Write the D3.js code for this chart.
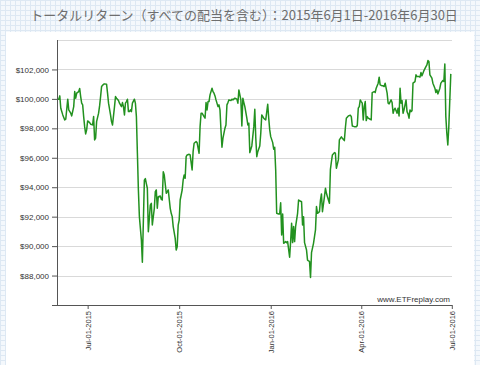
<!DOCTYPE html>
<html><head><meta charset="utf-8">
<script src="https://cdn.jsdelivr.net/npm/d3@7"></script>
<style>
html,body{margin:0;padding:0;background:#fff;}
svg{display:block;}
</style></head>
<body>
<svg id="chart" width="480" height="365"></svg>
<script>
const title = "トータルリターン（すべての配当を含む）：2015年6月1日-2016年6月30日";
const watermark = "www.ETFreplay.com";
const xTickDates = ["2015-07-01","2015-10-01","2016-01-01","2016-04-01","2016-07-01"];
const xTickLabels = ["Jul-01-2015","Oct-01-2015","Jan-01-2016","Apr-01-2016","Jul-01-2016"];
const yTicks = [88000,90000,92000,94000,96000,98000,100000,102000];
const yGrid = [88000,90000,92000,94000,96000,98000,100000,102000,104000];
const dates = [
"2015-06-01","2015-06-02","2015-06-03","2015-06-04","2015-06-06","2015-06-08","2015-06-09","2015-06-11","2015-06-12","2015-06-14","2015-06-15","2015-06-17","2015-06-18","2015-06-19","2015-06-20","2015-06-22","2015-06-23","2015-06-24","2015-06-25","2015-06-26","2015-06-27","2015-06-28","2015-06-29","2015-06-30",
"2015-07-01","2015-07-03","2015-07-04","2015-07-06","2015-07-07","2015-07-08","2015-07-09","2015-07-10","2015-07-12","2015-07-13","2015-07-14","2015-07-15","2015-07-17","2015-07-18","2015-07-20","2015-07-21","2015-07-22","2015-07-24","2015-07-25","2015-07-26","2015-07-28","2015-07-29","2015-07-30",
"2015-08-01","2015-08-02","2015-08-04","2015-08-05","2015-08-06","2015-08-07","2015-08-08","2015-08-09","2015-08-10","2015-08-11","2015-08-12","2015-08-13","2015-08-14","2015-08-15","2015-08-17","2015-08-18","2015-08-19","2015-08-20","2015-08-21","2015-08-22","2015-08-24","2015-08-25","2015-08-27","2015-08-28","2015-08-29","2015-08-30","2015-08-31",
"2015-09-02","2015-09-03","2015-09-04","2015-09-06","2015-09-07","2015-09-08","2015-09-09","2015-09-10","2015-09-12","2015-09-13","2015-09-14","2015-09-15","2015-09-16","2015-09-18","2015-09-19","2015-09-20","2015-09-22","2015-09-23","2015-09-24","2015-09-25","2015-09-27","2015-09-28","2015-09-29","2015-09-30",
"2015-10-01","2015-10-02","2015-10-04","2015-10-05","2015-10-06","2015-10-07","2015-10-08","2015-10-09","2015-10-11","2015-10-12","2015-10-14","2015-10-15","2015-10-16","2015-10-18","2015-10-19","2015-10-21","2015-10-22","2015-10-23","2015-10-24","2015-10-26","2015-10-27","2015-10-28","2015-10-29","2015-10-30","2015-10-31",
"2015-11-01","2015-11-03","2015-11-04","2015-11-05","2015-11-06","2015-11-07","2015-11-09","2015-11-10","2015-11-11","2015-11-12","2015-11-13","2015-11-14","2015-11-16","2015-11-17","2015-11-18","2015-11-19","2015-11-20","2015-11-22","2015-11-23","2015-11-24","2015-11-26","2015-11-28","2015-11-29","2015-11-30",
"2015-12-02","2015-12-03","2015-12-04","2015-12-05","2015-12-06","2015-12-08","2015-12-09","2015-12-10","2015-12-11","2015-12-12","2015-12-13","2015-12-15","2015-12-16","2015-12-17","2015-12-18","2015-12-19","2015-12-21","2015-12-22","2015-12-23","2015-12-25","2015-12-26","2015-12-27","2015-12-29","2015-12-30","2015-12-31",
"2016-01-01","2016-01-03","2016-01-04","2016-01-05","2016-01-06","2016-01-07","2016-01-09","2016-01-10","2016-01-11","2016-01-12","2016-01-13","2016-01-14","2016-01-16","2016-01-17","2016-01-18","2016-01-20","2016-01-21","2016-01-22","2016-01-23","2016-01-24","2016-01-25","2016-01-26","2016-01-28","2016-01-29","2016-01-30",
"2016-02-01","2016-02-02","2016-02-03","2016-02-04","2016-02-06","2016-02-07","2016-02-08","2016-02-09","2016-02-10","2016-02-11","2016-02-13","2016-02-14","2016-02-15","2016-02-16","2016-02-17","2016-02-19","2016-02-20","2016-02-21","2016-02-22","2016-02-24","2016-02-25","2016-02-26","2016-02-27","2016-02-29",
"2016-03-01","2016-03-02","2016-03-03","2016-03-05","2016-03-06","2016-03-07","2016-03-09","2016-03-10","2016-03-12","2016-03-13","2016-03-15","2016-03-16","2016-03-17","2016-03-19","2016-03-21","2016-03-22","2016-03-23","2016-03-25","2016-03-27","2016-03-28","2016-03-29","2016-03-30","2016-03-31",
"2016-04-01","2016-04-02","2016-04-03","2016-04-04","2016-04-05","2016-04-06","2016-04-07","2016-04-08","2016-04-10","2016-04-11","2016-04-12","2016-04-14","2016-04-15","2016-04-16","2016-04-18","2016-04-19","2016-04-20","2016-04-22","2016-04-23","2016-04-24","2016-04-25","2016-04-27","2016-04-28","2016-04-29",
"2016-05-01","2016-05-02","2016-05-03","2016-05-04","2016-05-05","2016-05-07","2016-05-08","2016-05-09","2016-05-10","2016-05-11","2016-05-12","2016-05-13","2016-05-14","2016-05-16","2016-05-17","2016-05-18","2016-05-19","2016-05-20","2016-05-21","2016-05-22","2016-05-23","2016-05-25","2016-05-26","2016-05-27","2016-05-29","2016-05-30","2016-05-31",
"2016-06-01","2016-06-02","2016-06-03","2016-06-05","2016-06-06","2016-06-07","2016-06-08","2016-06-09","2016-06-11","2016-06-12","2016-06-14","2016-06-15","2016-06-16","2016-06-17","2016-06-19","2016-06-20","2016-06-22","2016-06-23","2016-06-24","2016-06-25","2016-06-26","2016-06-27","2016-06-28","2016-06-29","2016-06-30"
];
const values = [
99980,99980,100204,99368,98912,98572,98620,99980,99252,99028,98844,99476,100496,100048,100388,100496,100700,100156,99708,99592,98796,98116,97620,97892,
98504,98388,98280,98232,98796,97212,97328,98456,99028,99524,100156,100836,101000,101020,101000,100388,99708,98912,98456,98232,99476,100156,100048,
99884,99708,99476,99748,99476,98912,99708,99816,99980,99136,99136,99252,99136,99708,99980,99708,98796,96308,93816,92004,90420,88904,94476,94588,94248,93930,90980,
92792,92908,91432,92568,93700,93816,92568,93356,93404,93180,93132,95056,94832,93588,93700,93816,92568,92228,92004,91324,90528,89732,89960,91432,
91772,93132,93812,94492,94832,94606,96076,96192,96240,96192,95172,96416,96988,97096,97030,96308,98116,99028,99028,98796,98688,99748,99252,99816,99816,
100272,100728,100496,100388,100204,99932,99476,99592,99252,97892,96716,97328,98008,98232,99592,99748,99932,99884,99980,99932,100048,99980,99708,100612,
99932,98164,100048,99748,99476,98688,98232,98348,96350,96580,96804,98116,99300,97328,96076,96416,96804,97668,98912,98688,98620,98572,99640,98688,97892,
97436,97030,96580,96716,95172,92228,92180,92180,92948,90756,92180,90190,90306,90238,90306,89244,90306,91556,90238,91324,90306,91324,92228,93132,93084,
93016,91432,91996,90238,89732,89052,89004,88960,87870,89552,90190,90646,91100,92684,92228,92340,93132,93540,92340,93356,93930,93588,93356,92908,
95216,95732,96192,96350,96308,95290,95856,97216,97420,97328,97164,98008,98688,98844,98890,98796,98164,98116,98116,98184,99368,99476,99932,
99816,99708,98572,99476,99816,98524,98796,98688,98620,98572,100428,100496,100428,100728,101068,101476,100952,100884,100884,100836,101068,100388,99708,99660,
99932,99748,99028,99252,99368,99028,99368,98844,100728,99708,99884,99028,99252,99932,99136,98980,98688,99252,99136,99204,101068,101176,101632,101516,101516,101476,101788,
101564,101748,101924,102196,102312,102604,102536,101632,101408,101068,100728,100428,100612,100340,100728,101068,101244,101176,102376,98796,97668,96876,98116,99932,101700
];

const parse = d3.utcParse("%Y-%m-%d");
const data = dates.map((d,i)=>({date:parse(d), value:values[i]}));
const svg = d3.select("#chart");

// graph-paper background
const defs = svg.append("defs");
const pat = defs.append("pattern").attr("id","paper").attr("width",5).attr("height",5).attr("patternUnits","userSpaceOnUse");
pat.append("rect").attr("width",5).attr("height",5).attr("fill","#f4f8fc");
pat.append("path").attr("d","M0,0.5H5M0.5,0V5").attr("stroke","#dde8f3").attr("stroke-width",1);
svg.append("rect").attr("width",480).attr("height",365).attr("fill","url(#paper)");
svg.append("rect").attr("x",6).attr("y",32).attr("width",468).attr("height",333).attr("fill","#fff");

svg.append("text").attr("x",244).attr("y",20).attr("text-anchor","middle")
  .attr("font-family","'Noto Sans CJK JP', sans-serif").attr("font-size",13).attr("fill","#6e6e6e")
  .text(title);

const x = d3.scaleUtc().domain([parse("2015-06-01"), parse("2016-07-01")]).range([57.8, 451.8]);
const y = d3.scaleLinear().domain([86000,104000]).range([305,40]);

// grid
svg.append("g").selectAll("line").data(yGrid).join("line")
  .attr("x1",57).attr("x2",452).attr("y1",d=>Math.round(y(d))+0.5).attr("y2",d=>Math.round(y(d))+0.5)
  .attr("stroke","#d9d9d9").attr("stroke-width",1);

// y axis
const yAxis = d3.axisLeft(y).tickValues(yTicks).tickSize(5).tickPadding(3)
  .tickFormat(d=>"$"+d3.format(",")(d));
const gy = svg.append("g").attr("transform","translate(57,0)").call(yAxis);
gy.select(".domain").remove();
gy.selectAll(".tick line").attr("stroke","#555");
gy.selectAll(".tick text").attr("font-family","'Liberation Sans', Arial, sans-serif").attr("font-size",8).attr("fill","#333");
svg.append("line").attr("x1",57.5).attr("x2",57.5).attr("y1",40).attr("y2",305).attr("stroke","#555");

// x axis
const xAxis = d3.axisBottom(x).tickValues(xTickDates.map(parse)).tickSize(4)
  .tickFormat((d,i)=>xTickLabels[i]);
const gx = svg.append("g").attr("transform","translate(0,305)").call(xAxis);
gx.select(".domain").remove();
gx.selectAll(".tick line").attr("stroke","#555");
gx.selectAll(".tick text").attr("font-family","'Liberation Sans', Arial, sans-serif").attr("font-size",7.5).attr("fill","#333")
  .attr("transform","rotate(-90)").attr("text-anchor","end").attr("x",-6).attr("y",0).attr("dy","0.35em");
svg.append("line").attr("x1",52).attr("x2",452).attr("y1",305.5).attr("y2",305.5).attr("stroke","#555");

// line
const line = d3.line().x(d=>x(d.date)).y(d=>y(d.value));
svg.append("path").datum(data).attr("d",line).attr("fill","none")
  .attr("stroke","#22911f").attr("stroke-width",1.5).attr("stroke-linejoin","round");

svg.append("text").attr("x",450).attr("y",302).attr("text-anchor","end")
  .attr("font-family","'Liberation Sans', Arial, sans-serif").attr("font-size",8).attr("fill","#333")
  .text(watermark);
</script>
</body></html>
